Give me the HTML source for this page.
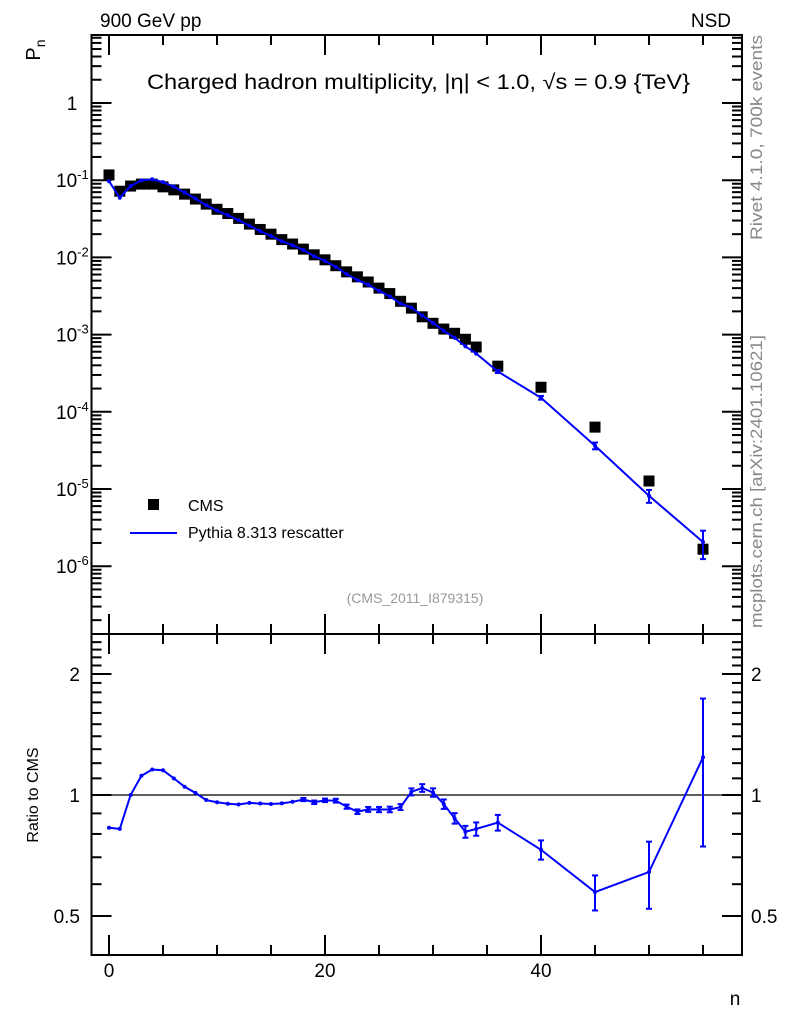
<!DOCTYPE html>
<html><head><meta charset="utf-8"><style>
html,body{margin:0;padding:0;background:#fff;width:786px;height:1024px;overflow:hidden}
svg text{font-family:"Liberation Sans",sans-serif}
</style></head><body>
<svg id="chart" width="786" height="1024">
<g id="axes"></g>
<g id="marks"></g>
<text x="100" y="27" font-size="19">900 GeV pp</text>
<text x="731" y="27" font-size="19" text-anchor="end">NSD</text>
<text x="147" y="89" font-size="21" textLength="543" lengthAdjust="spacingAndGlyphs">Charged hadron multiplicity, |η| &lt; 1.0, √s = 0.9 {TeV}</text>
<text transform="translate(40,50) rotate(-90)" font-size="20" text-anchor="middle">P<tspan font-size="14" dy="5">n</tspan></text>
<text transform="translate(38,795) rotate(-90)" font-size="16" text-anchor="middle">Ratio to CMS</text>
<text x="735" y="1005" font-size="19" text-anchor="middle">n</text>
<text transform="translate(762,240) rotate(-90)" font-size="17" fill="#888" textLength="205" lengthAdjust="spacingAndGlyphs">Rivet 4.1.0,  700k events</text>
<text transform="translate(762,628) rotate(-90)" font-size="17" fill="#888" textLength="293" lengthAdjust="spacingAndGlyphs">mcplots.cern.ch [arXiv:2401.10621]</text>
<text x="415" y="603" font-size="14" fill="#999" text-anchor="middle">(CMS_2011_I879315)</text>
<rect x="148" y="499" width="11" height="11" fill="#000"/>
<text x="188" y="511" font-size="16">CMS</text>
<line x1="130" y1="533" x2="177" y2="533" stroke="#0000ff" stroke-width="2"/>
<text x="188" y="538" font-size="16">Pythia 8.313 rescatter</text>
</svg>
<script>
const nValues=[0,1,2,3,4,5,6,7,8,9,10,11,12,13,14,15,16,17,18,19,20,21,22,23,24,25,26,27,28,29,30,31,32,33,34,36,40,45,50,55];
const cmsValues=[0.117,0.072,0.084,0.089,0.089,0.082,0.075,0.066,0.057,0.049,0.042,0.037,0.032,0.027,0.023,0.020,0.017,0.0149,0.0128,0.0108,0.0093,0.0078,0.0065,0.0056,0.0048,0.0040,0.0034,0.0027,0.0022,0.0017,0.0014,0.00118,0.00104,0.00087,0.00069,0.00039,0.000208,0.0000633,0.0000127,0.00000166];
const mcValues=[0.097,0.0593,0.084,0.0994,0.103,0.0945,0.0825,0.0692,0.0577,0.0476,0.0403,0.0352,0.0303,0.0258,0.0219,0.0190,0.0162,0.01433,0.01247,0.01036,0.00902,0.00755,0.00608,0.00509,0.00442,0.00368,0.00313,0.00252,0.00224,0.00177,0.00142,0.00112,0.00091,0.000705,0.000568,0.000333,0.000152,0.0000363,0.00000817,0.00000206];
const mcRelErr=[0.004,0.004,0.004,0.004,0.004,0.004,0.004,0.004,0.005,0.005,0.005,0.006,0.006,0.006,0.007,0.007,0.008,0.008,0.009,0.01,0.01,0.011,0.012,0.013,0.014,0.015,0.016,0.017,0.02,0.022,0.024,0.027,0.03,0.034,0.038,0.045,0.055,0.1,0.19,0.4];
const xTickLabels=[0,20,40];
const yDecades=[0,-1,-2,-3,-4,-5,-6];
const ratioTickLabels=[0.5,1,2];

const NS="http://www.w3.org/2000/svg";
const L=91.5,R=742,T=35,SPL=634,B=955;
const X=n=>109+10.8*n;
const Y=p=>103-77.2*Math.log10(p);
const RY=r=>795-402*Math.log10(r);
const axes=document.getElementById('axes'),marks=document.getElementById('marks');
function mk(tag,at,parent){const e=document.createElementNS(NS,tag);for(const k in at)e.setAttribute(k,at[k]);parent.appendChild(e);return e;}
let f1=mk('rect',{x:L,y:T,width:R-L,height:SPL-T,fill:'none',stroke:'#000','stroke-width':2},axes);


let f2=mk('rect',{x:L,y:SPL,width:R-L,height:B-SPL,fill:'none',stroke:'#000','stroke-width':2},axes);


for(let v=0;v<=60;v+=5){const x=X(v);if(x>R)break;const len=(v%20===0)?20:10;
 for(const [yb,dir] of [[SPL,-1],[T,1],[B,-1],[SPL,1]]){mk('line',{x1:x,y1:yb,x2:x,y2:yb+dir*len,stroke:'#000','stroke-width':2},axes);}}
xTickLabels.forEach(v=>{const t=mk('text',{x:X(v),y:977,'font-size':19,'text-anchor':'middle'},axes);t.textContent=v;
 
 });
for(let d=-7;d<=0;d++){for(let m=1;m<10;m++){const p=m*Math.pow(10,d);const y=Y(p);if(y<T||y>SPL)continue;const len=m===1?20:10;
 mk('line',{x1:L,y1:y,x2:L+len,y2:y,stroke:'#000','stroke-width':2},axes);mk('line',{x1:R,y1:y,x2:R-len,y2:y,stroke:'#000','stroke-width':2},axes);}}
yDecades.forEach(d=>{const y=Y(Math.pow(10,d));const t=mk('text',{x:d===0?72:56,y:y+7,'font-size':19,'text-anchor':d===0?'middle':'start'},axes);
 if(d===0)t.textContent='1';else{t.textContent='10';const s=mk('tspan',{dy:-8,'font-size':13},t);s.textContent=String(d);}
 
 });
for(let r=0.3;r<=2.45;r+=0.1){const y=RY(r);if(y<SPL||y>B)continue;const maj=Math.abs(r-0.5)<1e-6||Math.abs(r-1)<1e-6||Math.abs(r-2)<1e-6;const len=maj?20:10;
 mk('line',{x1:L,y1:y,x2:L+len,y2:y,stroke:'#000','stroke-width':2},axes);mk('line',{x1:R,y1:y,x2:R-len,y2:y,stroke:'#000','stroke-width':2},axes);}
ratioTickLabels.forEach(r=>{const y=RY(r);for(const [x,a] of [[80,'end'],[751,'start']]){const t=mk('text',{x:x,y:y+7,'font-size':19,'text-anchor':a},axes);t.textContent=r;
 
 }});
mk('line',{x1:L,y1:RY(1),x2:R,y2:RY(1),stroke:'#000','stroke-width':1.3},axes);
nValues.forEach((n,i)=>{const r=mk('rect',{x:X(n)-5.5,y:Y(cmsValues[i])-5.5,width:11,height:11,fill:'#000'},marks);
 
 });
let d='',rd='';
nValues.forEach((n,i)=>{d+=(i?'L':'M')+X(n)+','+Y(mcValues[i]);rd+=(i?'L':'M')+X(n)+','+RY(mcValues[i]/cmsValues[i]);});
let pl=mk('path',{d:d,fill:'none',stroke:'#0000ff','stroke-width':2},marks);


let rl=mk('path',{d:rd,fill:'none',stroke:'#0000ff','stroke-width':2},marks);


nValues.forEach((n,i)=>{const x=X(n),e=mcRelErr[i],v=mcValues[i],r=v/cmsValues[i];
 for(const [f,val] of [[Y,v],[RY,r]]){const y1=f(val*(1+e)),y2=f(val*(1-e));
  const g=mk('g',{stroke:'#0000ff','stroke-width':2},marks);
  
  
  mk('line',{x1:x,y1:y1,x2:x,y2:y2},g);
  if(Math.abs(y2-y1)>3){mk('line',{x1:x-3,y1:y1,x2:x+3,y2:y1},g);mk('line',{x1:x-3,y1:y2,x2:x+3,y2:y2},g);}
  mk('circle',{cx:x,cy:f(val),r:2,fill:'#0000ff',stroke:'none'},g);}});
</script>
</body></html>
